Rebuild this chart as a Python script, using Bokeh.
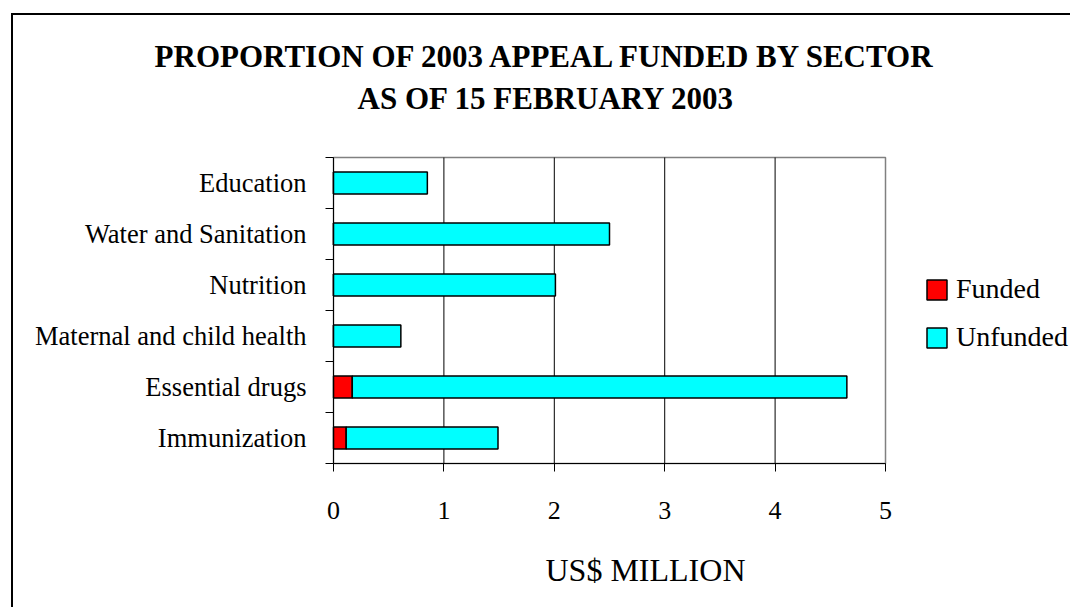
from bokeh.plotting import figure
from bokeh.models import Range1d, FixedTicker, Label, Legend, LegendItem
from bokeh.embed import file_html
from bokeh.resources import INLINE

# ---- data ----
categories = ["Immunization", "Essential drugs", "Maternal and child health",
              "Nutrition", "Water and Sanitation", "Education"]
funded = [0.115, 0.17, 0.0, 0.0, 0.0, 0.0]
unfunded = [1.375, 4.48, 0.61, 2.01, 2.50, 0.85]
x_ticks = [0, 1, 2, 3, 4, 5]
title_lines = ["PROPORTION OF 2003 APPEAL FUNDED BY SECTOR", "AS OF 15 FEBRUARY 2003"]
x_label = "US$ MILLION"
series_names = ["Funded", "Unfunded"]
colors = ["#FF0000", "#00FFFF"]

FONT = "Liberation Serif"

n = len(categories)
ypos = [i + 0.5 for i in range(n)]
totals = [f + u for f, u in zip(funded, unfunded)]
x0, x1 = x_ticks[0], x_ticks[-1]

# frame covers the whole canvas; axes are pinned inside with fixed_location
p = figure(width=1059, height=594, output_backend="svg", toolbar_location=None,
           x_range=Range1d(-2.8986, 6.6938), y_range=Range1d(-2.8627, 8.7843),
           min_border=0, margin=(13, 0, 0, 11))
p.styles = {"border-top": "2px solid black", "border-left": "2px solid black"}
p.background_fill_color = "white"
p.border_fill_color = "white"
p.outline_line_color = None
p.xgrid.visible = False
p.ygrid.visible = False

# plot-area border (grey) and vertical grid lines
p.quad(left=x0, right=x1, bottom=0, top=n, fill_color=None,
       line_color="#808080", line_width=1.5)
gx = x_ticks[1:-1]
p.segment(x0=gx, y0=[0] * len(gx), x1=gx, y1=[n] * len(gx),
          line_color="black", line_width=1)

r1 = p.hbar(y=ypos, left=0, right=funded, height=0.43,
            fill_color=colors[0], line_color="black", line_width=1.5)
r2 = p.hbar(y=ypos, left=funded, right=totals, height=0.43,
            fill_color=colors[1], line_color="black", line_width=1.5)

# x axis
xa = p.xaxis[0]
xa.fixed_location = 0
xa.bounds = (x0, x1)
xa.ticker = FixedTicker(ticks=x_ticks, minor_ticks=[])
xa.major_tick_out = 8
xa.major_tick_in = 0
xa.minor_tick_out = 0
xa.axis_line_color = "black"
xa.major_tick_line_color = "black"
xa.major_label_text_font = FONT
xa.major_label_text_font_size = "26px"
xa.major_label_text_color = "black"
xa.major_label_standoff = 30

# y axis
ya = p.yaxis[0]
ya.fixed_location = 0
ya.bounds = (0, n)
ya.ticker = FixedTicker(ticks=ypos, minor_ticks=list(range(n + 1)))
ya.major_label_overrides = {y: c for y, c in zip(ypos, categories)}
ya.major_tick_out = 0
ya.major_tick_in = 0
ya.minor_tick_out = 8
ya.minor_tick_in = 0
ya.minor_tick_line_color = "black"
ya.axis_line_color = "black"
ya.major_label_text_font = FONT
ya.major_label_text_font_size = "26.5px"
ya.major_label_text_color = "black"
ya.major_label_standoff = 19

# axis title
p.add_layout(Label(x=2.826, y=-2.088, text=x_label, text_align="center",
                   text_baseline="alphabetic", text_font=FONT,
                   text_font_size="32px", text_color="black"))

# chart title
for line, yy in zip(title_lines, [7.98, 7.16]):
    p.add_layout(Label(x=1.929, y=yy, text=line, text_align="center",
                       text_baseline="alphabetic", text_font=FONT,
                       text_font_size="31px", text_font_style="bold",
                       text_color="black"))

legend = Legend(items=[LegendItem(label=series_names[0], renderers=[r1]),
                       LegendItem(label=series_names[1], renderers=[r2])],
                location=(911, 256), orientation="vertical",
                glyph_width=25, glyph_height=25, label_standoff=7,
                label_height=20, spacing=16, padding=0, margin=0,
                border_line_alpha=0, background_fill_alpha=0,
                label_text_font=FONT, label_text_font_size="28px",
                label_text_color="black")
p.add_layout(legend, "center")

open("out.html", "w").write(file_html(p, INLINE))
